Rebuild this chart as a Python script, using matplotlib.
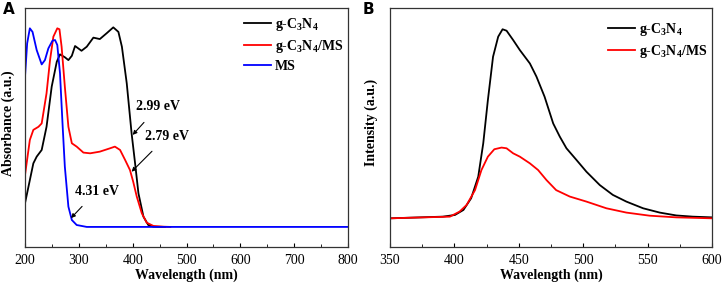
import matplotlib
matplotlib.use("Agg")
import matplotlib.pyplot as plt
from matplotlib.ticker import MultipleLocator

# ---------------------------------------------------------------------------
# Data (arbitrary units)
# ---------------------------------------------------------------------------
# Panel A: UV-vis absorbance
wl_cn = [200, 215.5, 221.7, 231, 240, 249.6, 259, 265, 274, 280.6, 287, 293, 305, 314.7,
         327, 339, 352, 364, 373.5, 380, 389, 398, 404.5, 410.7, 420, 429, 438.6, 460]
abs_cn = [0.183, 0.350, 0.378, 0.406, 0.503, 0.671, 0.775, 0.806, 0.794, 0.782, 0.800, 0.841,
          0.821, 0.838, 0.876, 0.870, 0.895, 0.919, 0.900, 0.838, 0.685, 0.476, 0.350, 0.225,
          0.127, 0.092, 0.085, 0.084]

wl_cnms = [200, 209, 215.5, 225, 231, 240, 246.5, 252.7, 260, 264, 268, 274, 280.6, 287, 296,
           308.5, 321, 339, 358, 367, 376.6, 386, 395, 401, 407.6, 417, 426, 438.6, 457, 470]
abs_cnms = [0.301, 0.448, 0.490, 0.503, 0.517, 0.643, 0.782, 0.880, 0.915, 0.911, 0.838, 0.671,
            0.503, 0.434, 0.420, 0.395, 0.392, 0.399, 0.413, 0.420, 0.406, 0.364, 0.322, 0.273,
            0.211, 0.141, 0.102, 0.088, 0.085, 0.084]

wl_ms = [200, 204, 209, 214, 221.7, 231, 237, 243.4, 251, 255.8, 260, 265, 270, 274, 280.6,
         287, 296, 314.7, 800]
abs_ms = [0.713, 0.852, 0.915, 0.900, 0.824, 0.764, 0.782, 0.831, 0.863, 0.866, 0.845, 0.727,
          0.503, 0.336, 0.169, 0.113, 0.092, 0.084, 0.084]

# Panel B: PL intensity
pl_wl_cn = [350, 391, 400.4, 407, 413, 418.5, 422.4, 426, 430, 434, 437.4, 440.5, 445.6, 450.8,
            458.6, 463.7, 470, 476.7, 481.8, 487, 494.8, 502.5, 512.9, 523, 533.5, 546.5,
            559.4, 572.3, 585, 600]
pl_cn = [0.120, 0.127, 0.134, 0.155, 0.204, 0.294, 0.434, 0.615, 0.796, 0.880, 0.911, 0.905,
         0.866, 0.824, 0.768, 0.713, 0.629, 0.517, 0.462, 0.413, 0.364, 0.315, 0.259, 0.218,
         0.190, 0.162, 0.144, 0.132, 0.127, 0.124]

pl_wl_cnms = [350, 396.5, 404, 409.5, 416, 421, 426, 431, 436.6, 440.5, 445.6, 450.8, 458.6,
              465, 471.5, 479, 489.6, 502.5, 518, 533.5, 551.6, 572.3, 600]
pl_cnms = [0.120, 0.127, 0.148, 0.176, 0.238, 0.322, 0.378, 0.409, 0.416, 0.413, 0.392, 0.378,
           0.350, 0.322, 0.280, 0.238, 0.211, 0.190, 0.162, 0.144, 0.131, 0.124, 0.120]

# band gap annotations: text, arrow head (x, y), text position (x, y)
gap_labels = ["2.99 eV", "2.79 eV", "4.31 eV"]
gap_heads = [(400, 0.469), (398, 0.315), (285.5, 0.121)]
gap_texts = [(447, 0.586), (464, 0.464), (333, 0.234)]

# ---------------------------------------------------------------------------
# Style
# ---------------------------------------------------------------------------
plt.rcParams.update({
    "font.family": "Liberation Serif",
    "font.size": 10,
    "mathtext.fontset": "custom",
    "mathtext.rm": "Liberation Serif:bold",
    "mathtext.default": "regular",
    "axes.linewidth": 0.9,
    "axes.edgecolor": "#333333",
})

fig = plt.figure(figsize=(7.24, 2.84), dpi=100)
axA = fig.add_axes([25 / 724, 37 / 284, 323 / 724, 239 / 284])
axB = fig.add_axes([390 / 724, 37 / 284, 322 / 724, 239 / 284])

lab_cn = "g-C$_3$N$_4$"
lab_cnms = "g-C$_3$N$_4$/MS"

axA.plot(wl_cn, abs_cn, color="black", lw=1.3, label=lab_cn)
axA.plot(wl_cnms, abs_cnms, color="#ff0000", lw=1.3, label=lab_cnms)
axA.plot(wl_ms, abs_ms, color="#0000ff", lw=1.3, label="MS")

for txt, head, pos in zip(gap_labels, gap_heads, gap_texts):
    axA.annotate(txt, xy=head, xytext=pos, ha="center", va="center",
                 fontsize=10, fontweight="bold",
                 arrowprops=dict(arrowstyle="-|>", color="black", lw=0.8,
                                 mutation_scale=6, shrinkA=6, shrinkB=0))

axA.set_xlim(200, 800)
axA.set_ylim(0, 1)
axA.xaxis.set_major_locator(MultipleLocator(100))
axA.xaxis.set_minor_locator(MultipleLocator(50))
axA.set_ylabel("Absorbance (a.u.)", fontweight="bold", fontsize=10)
axA.yaxis.set_label_coords(-0.031, 0.52)

axB.plot(pl_wl_cn, pl_cn, color="black", lw=1.3, label=lab_cn)
axB.plot(pl_wl_cnms, pl_cnms, color="#ff0000", lw=1.3, label=lab_cnms)
axB.set_xlim(350, 600)
axB.set_ylim(0, 1)
axB.xaxis.set_major_locator(MultipleLocator(50))
axB.xaxis.set_minor_locator(MultipleLocator(25))
axB.set_ylabel("Intensity (a.u.)", fontweight="bold", fontsize=10)
axB.yaxis.set_label_coords(-0.037, 0.52)

legend_anchor = {axA: (0.985, 0.967), axB: (0.984, 0.946)}

for ax in (axA, axB):
    ax.set_xlabel("Wavelength (nm)", fontweight="bold", fontsize=10, labelpad=1)
    ax.set_yticks([])
    ax.tick_params(axis="x", which="major", direction="in", length=3, width=0.8, pad=5)
    ax.tick_params(axis="x", which="minor", direction="in", length=2.5, width=0.6)
    ax.legend(loc="upper right", bbox_to_anchor=legend_anchor[ax], frameon=False,
              handlelength=1.95, handletextpad=0.25, labelspacing=0.35,
              borderpad=0, borderaxespad=0, prop={"weight": "bold", "size": 10})

fig.text(3 / 724, 1 - 9 / 284, "A", fontsize=11, fontweight="bold",
         family="DejaVu Sans", va="center")
fig.text(363 / 724, 1 - 9 / 284, "B", fontsize=11, fontweight="bold",
         family="DejaVu Sans", va="center")

fig.savefig("out.png", dpi=100)
plt.close(fig)
